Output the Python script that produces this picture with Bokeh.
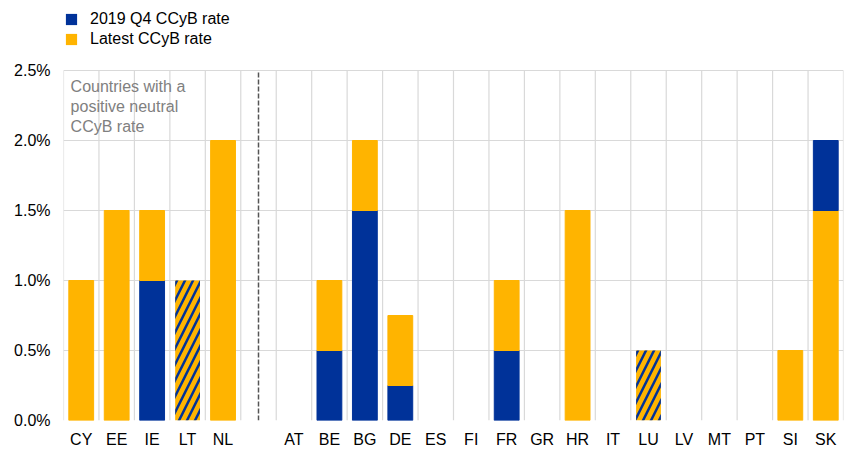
from bokeh.plotting import figure
from bokeh.models import (ColumnDataSource, FixedTicker, PrintfTickFormatter, Legend,
                          LegendItem, Label, Range1d)
from bokeh.embed import file_html
from bokeh.resources import INLINE

# ---- data ----
countries = ["CY", "EE", "IE", "LT", "NL", "", "AT", "BE", "BG", "DE", "ES", "FI",
             "FR", "GR", "HR", "IT", "LU", "LV", "MT", "PT", "SI", "SK"]
rate_2019q4 = [0.0, 0.0, 1.0, 1.0, 0.0, 0.0, 0.0, 0.5, 1.5, 0.25, 0.0, 0.0,
               0.5, 0.0, 0.0, 0.0, 0.5, 0.0, 0.0, 0.0, 0.0, 2.0]
rate_latest = [1.0, 1.5, 1.5, 1.0, 2.0, 0.0, 0.0, 1.0, 2.0, 0.75, 0.0, 0.0,
               1.0, 0.0, 1.5, 0.0, 0.5, 0.0, 0.0, 0.0, 0.5, 1.5]
y_ticks = [0.0, 0.5, 1.0, 1.5, 2.0, 2.5]
note_text = "Countries with a\npositive neutral\nCCyB rate"

BLUE = "#003299"
YELLOW = "#ffb400"
GRID = "#d9d9d9"

n = len(countries)
xs = [i + 0.5 for i in range(n)]
y_top = y_ticks[-1]

# split into segments
low_x, low_top, low_col = [], [], []
high_x, high_bot, high_top, high_col = [], [], [], []
hatch_x, hatch_top = [], []
for x, a, b in zip(xs, rate_2019q4, rate_latest):
    if a == b:
        if a > 0:
            hatch_x.append(x); hatch_top.append(a)
        continue
    lo, hi = min(a, b), max(a, b)
    lo_col = BLUE if a < b else YELLOW
    hi_col = YELLOW if a < b else BLUE
    if lo > 0:
        low_x.append(x); low_top.append(lo); low_col.append(lo_col)
    high_x.append(x); high_bot.append(lo); high_top.append(hi); high_col.append(hi_col)

p = figure(width=846, height=450, output_backend="svg", toolbar_location=None,
           x_range=Range1d(0, n), y_range=Range1d(0, 3.0),
           min_border_left=63, min_border_right=3, min_border_top=0, min_border_bottom=28)
p.outline_line_color = None
p.background_fill_color = "white"
p.border_fill_color = "white"

# vertical grid lines between categories (only up to 2.5%)
bounds = list(range(n + 1))
p.segment(x0=bounds, y0=[0] * len(bounds), x1=bounds, y1=[y_top] * len(bounds),
          line_color=GRID, line_width=1.2)

# dashed separator
gap_idx = countries.index("")
p.segment(x0=[xs[gap_idx]], y0=[0], x1=[xs[gap_idx]], y1=[y_top],
          line_color="#555555", line_dash="5 2", line_width=1.5)

BW = 0.7
p.vbar(x="x", top="top", bottom=0, width=BW, color="col",
       source=ColumnDataSource(dict(x=low_x, top=low_top, col=low_col)))
p.vbar(x="x", top="top", bottom="bot", width=BW, color="col",
       source=ColumnDataSource(dict(x=high_x, top=high_top, bot=high_bot, col=high_col)))
p.vbar(x="x", top="top", bottom=0, width=BW, fill_color=YELLOW, line_color=None,
       hatch_pattern="/", hatch_color=BLUE, hatch_scale=16, hatch_weight=2.5,
       source=ColumnDataSource(dict(x=hatch_x, top=hatch_top)))

# note
p.add_layout(Label(x=0.2, y=2.45, text=note_text, text_baseline="top", text_align="left",
                   text_font="Liberation Sans", text_font_size="16px", text_color="#808080",
                   text_line_height=1.2))

# axes
p.xaxis.ticker = FixedTicker(ticks=xs)
p.xaxis.major_label_overrides = {x: c for x, c in zip(xs, countries)}
p.yaxis.ticker = FixedTicker(ticks=y_ticks)
p.yaxis.formatter = PrintfTickFormatter(format="%.1f%%")
for ax in (p.xaxis[0], p.yaxis[0]):
    ax.axis_line_color = None
    ax.major_tick_line_color = None
    ax.minor_tick_line_color = None
    ax.major_label_text_font = "Liberation Sans"
    ax.major_label_text_font_size = "16px"
    ax.major_label_text_color = "black"
p.xaxis.major_label_standoff = 4
p.yaxis.major_label_standoff = 7

p.xgrid.grid_line_color = None
p.ygrid.ticker = FixedTicker(ticks=y_ticks)
p.ygrid.grid_line_color = GRID
p.ygrid.grid_line_width = 1.2

# legend (square swatches; the dummy quads lie below the visible range)
r1 = p.quad(left=[0], right=[0.1], top=[-1], bottom=[-2], fill_color=BLUE, line_color=None)
r2 = p.quad(left=[0], right=[0.1], top=[-1], bottom=[-2], fill_color=YELLOW, line_color=None)
legend = Legend(items=[LegendItem(label="2019 Q4 CCyB rate", renderers=[r1]),
                       LegendItem(label="Latest CCyB rate", renderers=[r2])],
                location=(1, 371), orientation="vertical",
                label_text_font="Liberation Sans", label_text_font_size="16px",
                label_text_color="black",
                glyph_width=14, glyph_height=14, label_height=20, label_standoff=12,
                spacing=0, padding=0, margin=0, border_line_color=None,
                background_fill_alpha=0)
p.add_layout(legend, "center")

open("out.html", "w").write(file_html(p, INLINE))
